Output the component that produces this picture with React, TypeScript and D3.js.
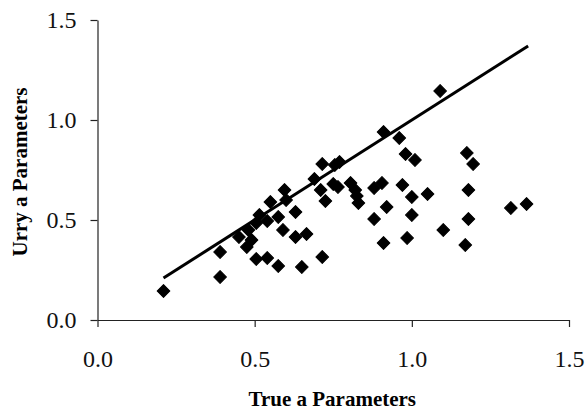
import React, { useEffect, useRef } from 'react';
import * as d3 from 'd3';

// values
const trueA: number[] = [
  0.21, 0.39, 0.39, 0.45, 0.475, 0.49, 0.48, 0.505, 0.54, 0.575,
  0.505, 0.515, 0.54, 0.55, 0.575, 0.595, 0.6, 0.59, 0.63, 0.63,
  0.665, 0.65, 0.715, 0.715, 0.755, 0.77, 0.69, 0.71, 0.725, 0.75,
  0.765, 0.805, 0.82, 0.825, 0.83, 0.88, 0.905, 0.97, 1.0, 1.05,
  0.92, 0.88, 1.0, 1.1, 0.91, 0.985, 1.17, 1.18, 1.18, 1.175,
  1.195, 1.315, 1.365, 1.09, 0.91, 0.96, 0.98, 1.01,
];
const urryA: number[] = [
  0.145, 0.34, 0.215, 0.415, 0.365, 0.4, 0.45, 0.305, 0.31, 0.27,
  0.485, 0.525, 0.495, 0.59, 0.515, 0.65, 0.6, 0.45, 0.54, 0.415,
  0.43, 0.265, 0.315, 0.78, 0.775, 0.79, 0.705, 0.65, 0.595, 0.68,
  0.665, 0.685, 0.65, 0.62, 0.585, 0.66, 0.685, 0.675, 0.615, 0.63,
  0.565, 0.505, 0.525, 0.45, 0.385, 0.41, 0.375, 0.505, 0.65, 0.835,
  0.78, 0.56, 0.58, 1.145, 0.94, 0.91, 0.83, 0.8,
];
const lineEnds: number[] = [0.21, 1.37];
const ticks: number[] = [0, 0.5, 1.0, 1.5];

const App = () => {
  const ref = useRef<SVGSVGElement | null>(null);

  useEffect(() => {
    const svg = d3.select(ref.current);
    svg.selectAll('*').remove();

    const x = d3.scaleLinear().domain([0, 1.5]).range([97.5, 569]);
    const y = d3.scaleLinear().domain([0, 1.5]).range([320, 20]);
    const fmt = d3.format('.1f');
    const serif = '"Liberation Serif", "Times New Roman", serif';

    // X axis
    const gx = svg.append('g')
      .attr('transform', `translate(0,${y(0)})`)
      .call(d3.axisBottom(x).tickValues(ticks).tickFormat(d => fmt(+d)).tickSize(7).tickSizeOuter(0));
    gx.selectAll('.tick text')
      .attr('font-family', serif).attr('font-size', 24).attr('fill', '#111')
      .attr('y', 30).attr('dy', '0.71em');

    // Y axis
    const gy = svg.append('g')
      .attr('transform', `translate(${x(0)},0)`)
      .call(d3.axisLeft(y).tickValues(ticks).tickFormat(d => fmt(+d)).tickSize(7).tickSizeOuter(0));
    gy.selectAll('.tick text')
      .attr('font-family', serif).attr('font-size', 24).attr('fill', '#111')
      .attr('x', -21);

    svg.selectAll('.domain, .tick line').attr('stroke', '#222').attr('stroke-width', 1.2);

    // Identity line
    svg.append('line')
      .attr('x1', x(lineEnds[0])).attr('y1', y(lineEnds[0]))
      .attr('x2', x(lineEnds[1])).attr('y2', y(lineEnds[1]))
      .attr('stroke', '#000').attr('stroke-width', 3);

    // Points
    const diamond = d3.symbol().type(d3.symbolSquare).size(82);
    svg.append('g')
      .selectAll('path')
      .data(trueA.map((v, i) => [v, urryA[i]]))
      .enter()
      .append('path')
      .attr('d', diamond)
      .attr('transform', d => `translate(${x(d[0])},${y(d[1])}) rotate(45)`)
      .attr('fill', '#000')
      .attr('stroke', '#000')
      .attr('stroke-width', 1)
      .attr('stroke-linejoin', 'round');

    // Titles
    svg.append('text')
      .attr('x', (x(0) + x(1.5)) / 2 - 1).attr('y', 406)
      .attr('text-anchor', 'middle')
      .attr('font-family', serif).attr('font-weight', 'bold').attr('font-size', 21)
      .text('True a Parameters');

    svg.append('text')
      .attr('transform', `translate(27,${(y(0) + y(1.5)) / 2 + 2}) rotate(-90)`)
      .attr('text-anchor', 'middle')
      .attr('font-family', serif).attr('font-weight', 'bold').attr('font-size', 21)
      .text('Urry a Parameters');
  }, []);

  return (
    <svg ref={ref} width={588} height={415}
      style={{ position: 'absolute', left: 0, top: 0, background: '#fff' }} />
  );
};

export default App;
